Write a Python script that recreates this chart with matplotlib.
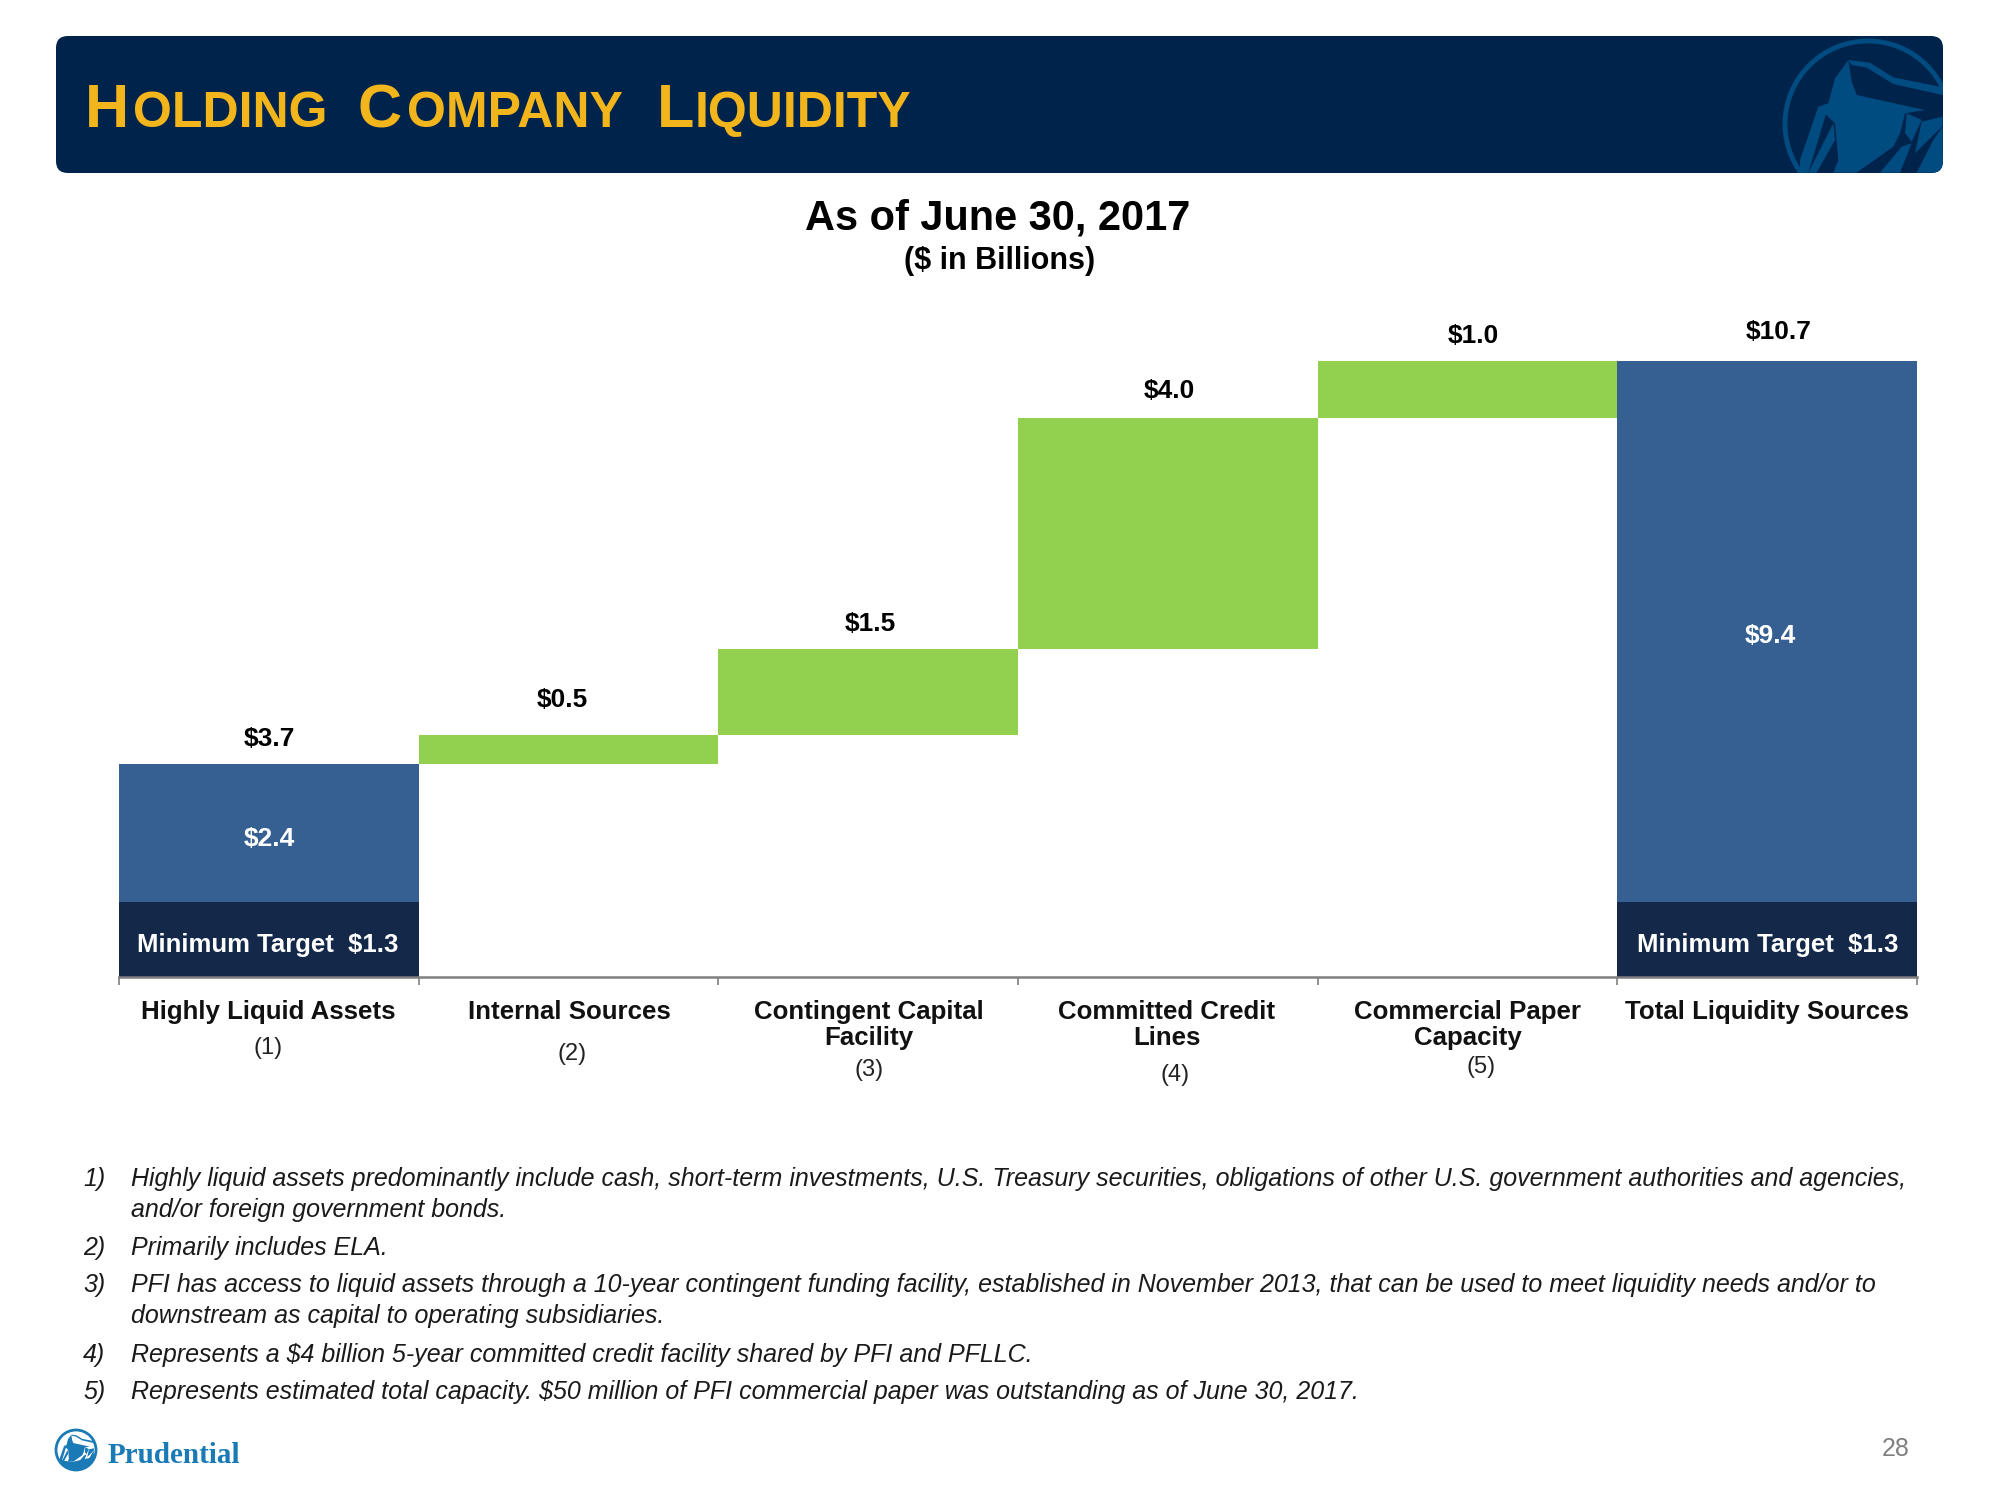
import matplotlib
matplotlib.use('Agg')
import matplotlib.pyplot as plt
import numpy as np
from matplotlib.patches import Circle, FancyBboxPatch, Polygon

categories = [
    'Highly Liquid Assets',
    'Internal Sources',
    'Contingent Capital\nFacility',
    'Committed Credit\nLines',
    'Commercial Paper\nCapacity',
    'Total Liquidity Sources',
]
notes_refs = ['(1)', '(2)', '(3)', '(4)', '(5)']
minimum_target = [1.3, 1.3]
above_target = [2.4, 9.4]
step_values = [0.5, 1.5, 4.0, 1.0]
totals = [3.7, 10.7]

footnotes = [
    ('1)', ['Highly liquid assets predominantly include cash, short-term investments, U.S. Treasury securities, obligations of other U.S. government authorities and agencies,',
            'and/or foreign government bonds.']),
    ('2)', ['Primarily includes ELA.']),
    ('3)', ['PFI has access to liquid assets through a 10-year contingent funding facility, established in November 2013, that can be used to meet liquidity needs and/or to',
            'downstream as capital to operating subsidiaries.']),
    ('4)', ['Represents a $4 billion 5-year committed credit facility shared by PFI and PFLLC.']),
    ('5)', ['Represents estimated total capacity. $50 million of PFI commercial paper was outstanding as of June 30, 2017.']),
]

NAVY = '#00234b'
BLUE = '#366092'
DARK = '#14294a'
GREEN = '#92d050'
GOLD = '#f2b51c'
MARK = '#004b80'
LOGO = '#1a7ab5'

plt.rcParams['font.family'] = ['Liberation Sans', 'DejaVu Sans']

fig = plt.figure(figsize=(20, 15), dpi=100)

# page overlay, in pixels
page = fig.add_axes([0, 0, 1, 1], zorder=3)
page.set_xlim(0, 2000)
page.set_ylim(1500, 0)
page.axis('off')

# chart
ax = fig.add_axes([119 / 2000, (1500 - 977) / 1500, 1798 / 2000, 633.6 / 1500], zorder=1)
ax.set_xlim(-0.5, 5.5)
ax.set_ylim(0, 11)
ax.patch.set_alpha(0)
ax.bar([0, 5], minimum_target, width=1, color=DARK)
ax.bar([0, 5], above_target, width=1, bottom=minimum_target, color=BLUE)
steps_bottom = totals[0] + np.concatenate(([0], np.cumsum(step_values)[:-1]))
ax.bar([1, 2, 3, 4], step_values, width=1, bottom=steps_bottom, color=GREEN)
for s in ['top', 'left', 'right']:
    ax.spines[s].set_visible(False)
ax.spines['bottom'].set_color('#7f7f7f')
ax.spines['bottom'].set_linewidth(1.8)
ax.set_yticks([])
ax.set_xticks(np.arange(-0.5, 6))
ax.set_xticklabels([])
ax.tick_params(axis='x', length=6, width=1.2, color='#7f7f7f')

# banner
banner = FancyBboxPatch((66, 46), 1867, 117, boxstyle='round,pad=10,rounding_size=12',
                        fc=NAVY, ec='none', zorder=1)
page.add_patch(banner)
ring = Circle((1868, 124), 83, fc='none', ec=MARK, lw=3.5, zorder=2)
page.add_patch(ring)
ring.set_clip_path(banner)

rock_parts = [
    [(745, 180), (755, 245), (770, 285), (975, 330), (915, 340), (900, 400), (880, 440),
     (770, 518), (700, 518), (715, 480), (705, 370), (680, 345), (655, 320), (685, 310), (705, 235)],
    [(745, 180), (810, 188), (880, 232), (1028, 262), (1028, 285), (880, 252), (800, 203), (755, 195)],
    [(655, 320), (680, 335), (625, 518), (600, 518), (600, 480)],
    [(700, 370), (705, 420), (650, 518), (625, 518)],
    [(920, 340), (965, 360), (935, 425), (915, 400)],
    [(905, 440), (935, 430), (900, 518), (840, 518)],
    [(1028, 380), (1028, 518), (950, 518), (1000, 420)],
    [(965, 365), (1028, 350), (1028, 378), (985, 420), (945, 460)],
]
for part in rock_parts:
    pts = [(1600 + px / 3, py / 3) for px, py in part]
    poly = Polygon(pts, closed=True, fc=MARK, ec='none', zorder=2)
    page.add_patch(poly)
    poly.set_clip_path(banner)

# title, small caps in pieces
for x, s, size in [(85, 'H', 44), (133, 'OLDING', 36),
                   (358, 'C', 44), (407, 'OMPANY', 36),
                   (657, 'L', 44), (695, 'IQUIDITY', 36)]:
    page.text(x, 127, s, color=GOLD, fontsize=size, fontweight='bold', va='baseline', ha='left', zorder=4)

page.text(998, 219, 'As of June 30, 2017', fontsize=29.9, fontweight='bold', ha='center', va='center')
page.text(1000, 261, '($ in Billions)', fontsize=22, fontweight='bold', ha='center', va='center')

# value labels
for x, y, v in [(269, 739, totals[0]), (562, 700, step_values[0]), (870, 624, step_values[1]),
                (1169, 391, step_values[2]), (1473, 336, step_values[3]), (1779, 332, totals[1])]:
    page.text(x, y, f'${v:.1f}', fontsize=19, fontweight='bold', ha='center', va='center', color='black')
for x, y, v in [(269, 839, above_target[0]), (1770, 636, above_target[1])]:
    page.text(x, y, f'${v:.1f}', fontsize=19, fontweight='bold', ha='center', va='center', color='white')
for x, v in [(268, minimum_target[0]), (1768, minimum_target[1])]:
    page.text(x, 945, f'Minimum Target  ${v:.1f}', fontsize=18.5, fontweight='bold', ha='center', va='center', color='white')

# category labels
for x, name in zip([268, 569, 869, 1167, 1468, 1767], categories):
    page.text(x, 1000, name, fontsize=18.6, fontweight='bold', ha='center', va='top',
              linespacing=1.12, color='#111111')
for x, y, ref in zip([268, 572, 869, 1175, 1481], [1048, 1054, 1070, 1075, 1067], notes_refs):
    page.text(x, y, ref, fontsize=17, ha='center', va='center', color='#222222')

# footnotes
rows = iter([1179, 1210, 1248, 1285, 1316, 1355, 1392])
for num, lines in footnotes:
    for i, line in enumerate(lines):
        y = next(rows)
        if i == 0:
            page.text(83, y, num, fontsize=18, style='italic', ha='left', va='center', color='#1a1a1a')
        page.text(131, y, line, fontsize=18, style='italic', ha='left', va='center', color='#1a1a1a')

# footer logo, same rock shape as the banner mark scaled down
logo_ring = Circle((76, 1450), 20, fc='white', ec=LOGO, lw=2, zorder=2)
page.add_patch(logo_ring)
for part in rock_parts:
    pts = [(76 + (1600 + px / 3 - 1868) * 0.24, 1450 + (py / 3 - 124) * 0.24) for px, py in part]
    poly = Polygon(pts, closed=True, fc=LOGO, ec='none', zorder=3)
    page.add_patch(poly)
    poly.set_clip_path(logo_ring)
swoop = Polygon([(54, 1459), (72, 1462), (98, 1456), (98, 1472), (54, 1472)], closed=True,
                fc=LOGO, ec='none', zorder=3)
page.add_patch(swoop)
swoop.set_clip_path(logo_ring)
page.text(108, 1463, 'Prudential', family='Liberation Serif', fontsize=21, fontweight='bold',
          color=LOGO, ha='left', va='baseline')

page.text(1896, 1449, '28', fontsize=18, color='#808080', ha='center', va='center')

fig.savefig('out.png', dpi=100)
